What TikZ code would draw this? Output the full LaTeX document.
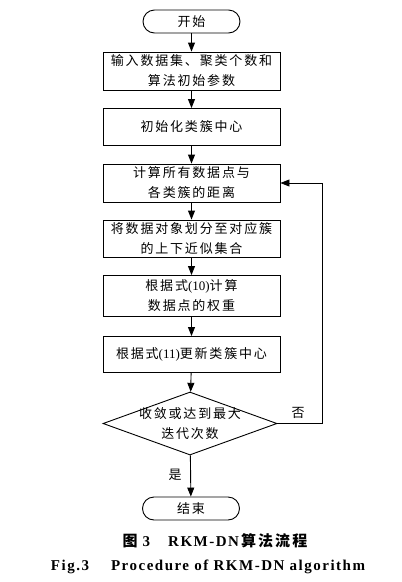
\documentclass[tikz,border=0pt]{standalone}
\usepackage{fontspec}
\setmainfont{Liberation Serif}
\newfontfamily\cjk[LetterSpace=14]{Noto Sans CJK SC}
\newfontfamily\cjkcap[LetterSpace=14]{Noto Sans CJK SC}
\newfontfamily\latincap[LetterSpace=10]{Liberation Serif}
\usetikzlibrary{shapes.geometric,arrows.meta}
\tikzset{
  flowbox/.style={draw, line width=0.9pt, minimum width=177pt, minimum height=38pt, inner sep=0pt, align=center, font=\cjk\fontsize{13}{20}\selectfont},
  termbox/.style={flowbox, minimum width=97pt, minimum height=23pt, rounded corners=11.5pt},
  decision/.style={draw, diamond, line width=0.9pt, minimum width=174pt, minimum height=63pt, inner sep=0pt},
  flowarrow/.style={line width=0.9pt, -{Triangle[length=9pt,width=7pt]}},
  flowlabel/.style={font=\cjk\fontsize{13}{20}\selectfont, inner sep=0pt}
}
\begin{document}
\begin{tikzpicture}[x=1pt,y=-1pt]
    \useasboundingbox (0,0) rectangle (402,582);
    \node [termbox] (start) at (191.5,21.5) {开始};
    \node [flowbox] (input) at (191.5,71) {输入数据集、聚类个数和\\算法初始参数};
    \node [flowbox, minimum height=37pt] (init) at (191.5,127) {初始化类簇中心};
    \node [flowbox] (dist) at (191.5,183) {计算所有数据点与\\各类簇的距离};
    \node [flowbox, minimum height=37pt] (assign) at (191.5,238.5) {将数据对象划分至对应簇\\的上下近似集合};
    \node [flowbox, minimum height=41pt] (weight) at (191.5,296) {根据式{\rmfamily(10)}计算\\数据点的权重};
    \node [flowbox, minimum height=36pt] (update) at (191.5,354.5) {根据式{\rmfamily(11)}更新类簇中心};
    \node [decision, label={[flowlabel, align=center]center:收敛或达到最大\\迭代次数}] (judge) at (190,423.5) {};
    \node [termbox] (stop) at (191,508.5) {结束};
    \coordinate (loop) at (322,300);
    \draw [flowarrow] (start) -- (input);
    \draw [flowarrow] (input) -- (init);
    \draw [flowarrow] (init) -- (dist);
    \draw [flowarrow] (dist) -- (assign);
    \draw [flowarrow] (assign) -- (weight);
    \draw [flowarrow] (weight) -- (update);
    \draw [flowarrow] (update) -- (judge);
    \draw [flowarrow] (judge) -- (stop);
    \draw [flowarrow] (judge.east) -- (judge.east -| loop) |- (dist.east);
    \node [flowlabel] (no) at (298,413) {否};
    \node [flowlabel] (yes) at (175,475) {是};
    \node [font=\latincap\bfseries\fontsize{15}{18}\selectfont, inner sep=0pt] (title) at (215,541) {{\cjkcap 图}\hspace{5pt}3\hspace{18pt}RKM-DN\hspace{2pt}{\cjkcap 算法流程}};
    \node [font=\latincap\bfseries\fontsize{15}{18}\selectfont, inner sep=0pt] (entitle) at (208,567) {Fig.3\hspace{22pt}Procedure of RKM-DN algorithm};
\end{tikzpicture}
\end{document}
